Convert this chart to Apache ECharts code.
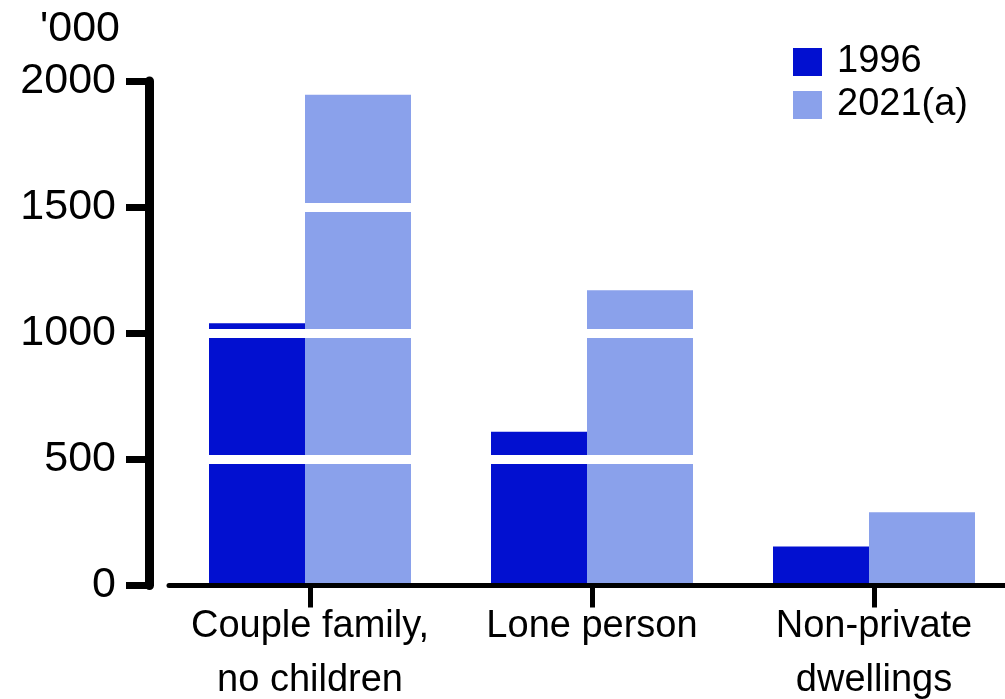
<!DOCTYPE html>
<html>
<head>
<meta charset="utf-8">
<script src="https://cdn.jsdelivr.net/npm/echarts@6/dist/echarts.min.js"></script>
<style>
  html, body { margin: 0; padding: 0; background: #fff; }
  #main { width: 1005px; height: 699px; }
</style>
</head>
<body>
<div id="main"></div>
<script>
// household type, thousands
const categories = ['Couple family,\nno children', 'Lone person', 'Non-private\ndwellings']
const seriesNames = ['1996', '2021(a)']
const values1996 = [1040, 610, 155]
const values2021 = [1945, 1170, 290]
const yTicks = [0, 500, 1000, 1500, 2000]

const font = "'Liberation Sans', Arial, sans-serif"
const dark = '#0210D0'
const light = '#8AA1EB'

const chart = echarts.init(document.getElementById('main'))

const option = {
  animation: false,
  backgroundColor: '#fff',
  textStyle: { fontFamily: font },
  grid: { left: 169, right: -10, top: 81, bottom: 113.5, outerBoundsMode: 'none', containLabel: false },
  graphic: [{
    type: 'text',
    right: 885,
    top: 8,
    style: { text: "'000", font: '43px ' + font, fill: '#000' }
  }],
  legend: {
    orient: 'vertical',
    left: 793,
    top: 43,
    padding: 0,
    icon: 'rect',
    itemWidth: 29,
    itemHeight: 28,
    itemGap: 5,
    data: seriesNames,
    textStyle: { fontSize: 38, color: '#000', padding: [0, 0, 0, 10], fontFamily: font }
  },
  xAxis: {
    type: 'category',
    data: categories,
    z: 6,
    axisLine: { lineStyle: { color: '#000', width: 5 } },
    axisTick: { show: true, alignWithLabel: true, length: 22, lineStyle: { color: '#000', width: 5 } },
    axisLabel: { interval: 0, color: '#000', fontSize: 38, lineHeight: 54, margin: 14, fontFamily: font }
  },
  yAxis: {
    type: 'value',
    min: yTicks[0],
    max: yTicks[yTicks.length - 1],
    interval: 500,
    offset: 20,
    z: 5,
    axisLine: { show: true, lineStyle: { color: '#000', width: 9 } },
    axisTick: { show: true, length: 23, lineStyle: { color: '#000', width: 7 } },
    axisLabel: { color: '#000', fontSize: 43, margin: 33, fontFamily: font, formatter: v => String(v) },
    splitLine: { show: true, showMinLine: false, showMaxLine: false, lineStyle: { color: '#fff', width: 9 } }
  },
  series: [{
    name: seriesNames[0],
    type: 'bar',
    data: values1996,
    barWidth: 96,
    barGap: '0%',
    itemStyle: { color: dark }
  }, {
    name: seriesNames[1],
    type: 'bar',
    data: values2021,
    barWidth: 106,
    barGap: '0%',
    itemStyle: { color: light }
  }]
}

chart.setOption(option)
</script>
</body>
</html>
